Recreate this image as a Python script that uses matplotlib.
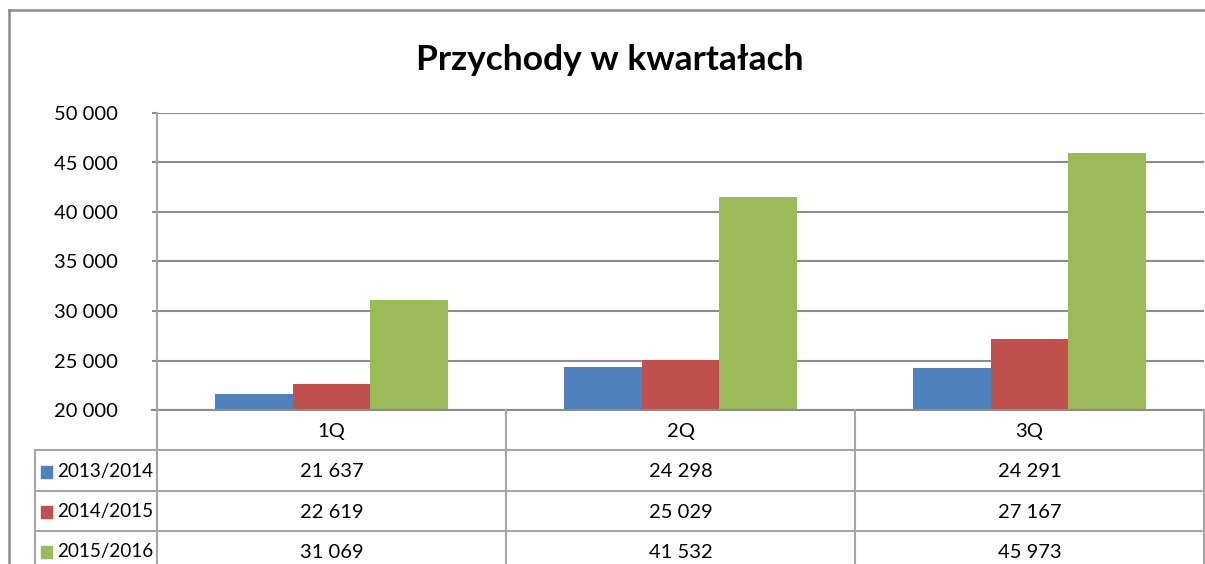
import matplotlib
matplotlib.use("Agg")
import matplotlib.pyplot as plt
from matplotlib.lines import Line2D
from matplotlib.patches import Rectangle

plt.rcParams['font.family'] = ['Lato', 'DejaVu Sans']

title = "Przychody w kwartałach"
categories = ["1Q", "2Q", "3Q"]
series_names = ["2013/2014", "2014/2015", "2015/2016"]
s2013 = [21637, 24298, 24291]
s2014 = [22619, 25029, 27167]
s2015 = [31069, 41532, 45973]
series = [s2013, s2014, s2015]
colors = ["#4F81BD", "#C0504D", "#9BBB59"]
yticks = [20000, 25000, 30000, 35000, 40000, 45000, 50000]

def fmt(v):
    return f"{v:,}".replace(",", " ")

W, H = 1205, 564
fig = plt.figure(figsize=(W / 100, H / 100), dpi=100)
fig.patch.set_facecolor("white")

grid_c = "#8C8C8C"
line_c = "#A6A6A6"
PT = 72 / 100  # points per pixel

# main plot axes (pixels: left 157, right 1204, top 113, bottom 410)
L, R, T, B = 157, 1204, 113, 410
ax = fig.add_axes([L / W, 1 - B / H, (R - L) / W, (B - T) / H])
n = len(series)
bw = 0.222
x = list(range(len(categories)))
for i, (vals, c) in enumerate(zip(series, colors)):
    pos = [xi + (i - (n - 1) / 2) * bw for xi in x]
    ax.bar(pos, vals, width=bw, color=c, zorder=3, bottom=0)
ax.set_xlim(-0.5, len(categories) - 0.5)
ax.set_ylim(yticks[0], yticks[-1])
ax.set_yticks(yticks)
ax.set_yticklabels([fmt(v) for v in yticks], fontsize=14.5)
ax.tick_params(axis='y', length=5 * PT, width=1.5, color=grid_c, pad=34 * PT)
ax.set_xticks([])
ax.yaxis.grid(True, color=grid_c, linewidth=1.5, zorder=0)
for s in ["top", "right", "bottom"]:
    ax.spines[s].set_visible(False)
ax.spines["left"].set_color(line_c)
ax.spines["left"].set_linewidth(1.5)

# overlay in pixel coordinates for table and frame
ov = fig.add_axes([0, 0, 1, 1], zorder=5)
ov.set_xlim(0, W)
ov.set_ylim(H, 0)
ov.axis("off")
ov.patch.set_alpha(0)

# chart border
ov.add_line(Line2D([9, 9], [10, H], color=grid_c, lw=1.8))
ov.add_line(Line2D([9, W], [10, 10], color=grid_c, lw=1.8))

# title
ov.text(610, 60, title, fontsize=25.5, fontweight="bold", ha="center", va="center")

# table
col_w = (R - L) / len(categories)
col_edges = [L + k * col_w for k in range(len(categories) + 1)]
row_y = [410, 450, 491, 531, 571]
tl = 35
ov.add_line(Line2D([152, R], [row_y[0], row_y[0]], color=grid_c, lw=1.5))
for y in row_y[1:4]:
    ov.add_line(Line2D([tl, R], [y, y], color=line_c, lw=1.5))
ov.add_line(Line2D([tl, tl], [row_y[1], H], color=line_c, lw=1.5))
ov.add_line(Line2D([L, L], [row_y[0], H], color=line_c, lw=1.5))
for xe in col_edges[1:]:
    ov.add_line(Line2D([xe, xe], [row_y[0], H], color=line_c, lw=1.5))

for j, cat in enumerate(categories):
    cx = (col_edges[j] + col_edges[j + 1]) / 2
    ov.text(cx, (row_y[0] + row_y[1]) / 2 + 1, cat, fontsize=14.5, ha="center", va="center")
for i, (name, vals, c) in enumerate(zip(series_names, series, colors)):
    cy = (row_y[i + 1] + row_y[i + 2]) / 2 + 1
    ov.add_patch(Rectangle((41, cy - 6), 11, 12, color=c))
    ov.text(57, cy, name, fontsize=13.6, ha="left", va="center")
    for j, v in enumerate(vals):
        cx = (col_edges[j] + col_edges[j + 1]) / 2
        ov.text(cx, cy, fmt(v), fontsize=14.5, ha="center", va="center")

fig.savefig("out.png", dpi=100)
